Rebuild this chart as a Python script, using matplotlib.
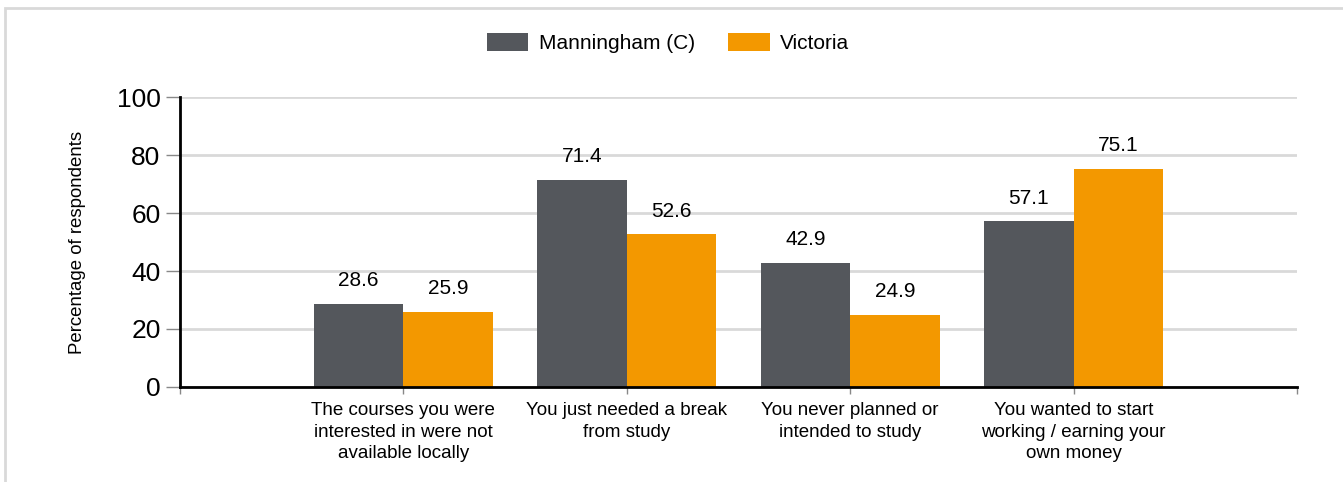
import matplotlib.pyplot as plt
import matplotlib.patches as mpatches
import numpy as np

plt.rcParams['font.family'] = ['Liberation Sans', 'DejaVu Sans']

# Data
categories = ['The courses you were\ninterested in were not\navailable locally',
              'You just needed a break\nfrom study',
              'You never planned or\nintended to study',
              'You wanted to start\nworking / earning your\nown money']
manningham = [28.6, 71.4, 42.9, 57.1]
victoria = [25.9, 52.6, 24.9, 75.1]

grey = '#54575c'
orange = '#f39800'

fig = plt.figure(figsize=(13.43, 4.82), dpi=100)
ax = fig.add_axes([180 / 1343, 1 - 387 / 482, (1297 - 180) / 1343, (387 - 97) / 482])

# light frame around the chart (cropped on right/bottom)
fig.patches.append(mpatches.Rectangle((5 / 1343, -0.1), 1.2, 1 - 8 / 482 + 0.1,
                                      transform=fig.transFigure, fill=False,
                                      edgecolor='#d9d9d9', linewidth=2))

x = np.arange(len(categories))
w = 0.4
b1 = ax.bar(x - w / 2, manningham, width=w, color=grey, label='Manningham (C)', zorder=3)
b2 = ax.bar(x + w / 2, victoria, width=w, color=orange, label='Victoria', zorder=3)

for bars, vals in [(b1, manningham), (b2, victoria)]:
    for rect, v in zip(bars, vals):
        ax.annotate(f'{v}', (rect.get_x() + rect.get_width() / 2, v),
                    xytext=(0, 10), textcoords='offset points',
                    ha='center', va='bottom', fontsize=15)

ax.set_xlim(-1, 4)
ax.set_ylim(0, 100)
ax.set_yticks(range(0, 101, 20))
ax.tick_params(axis='y', labelsize=19, length=10, width=1, color='#888888', pad=4)
ax.set_xticks([-1, 0, 1, 2, 3, 4])
ax.set_xticklabels([''] + categories + [''], fontsize=13.5, linespacing=1.35)
ax.tick_params(axis='x', length=5, width=1, color='#888888', pad=6)

ax.yaxis.grid(True, color='#d9d9d9', linewidth=2, zorder=0)
ax.set_axisbelow(True)
for s in ['top', 'right']:
    ax.spines[s].set_visible(False)
for s in ['left', 'bottom']:
    ax.spines[s].set_linewidth(2)
    ax.spines[s].set_color('black')
    ax.spines[s].set_zorder(4)

ax.set_ylabel('Percentage of respondents', fontsize=13.4)
ax.yaxis.set_label_coords((77 - 180) / 1117, 0.5)
ax.yaxis.label.set_va('center')

fig.legend(handles=[b1, b2], loc='center', bbox_to_anchor=(668 / 1343, 1 - 43 / 482),
           ncol=2, frameon=False, fontsize=15, handlelength=2.0, handleheight=0.95,
           columnspacing=1.6, handletextpad=0.5)

fig.savefig('out.png', dpi=100)
